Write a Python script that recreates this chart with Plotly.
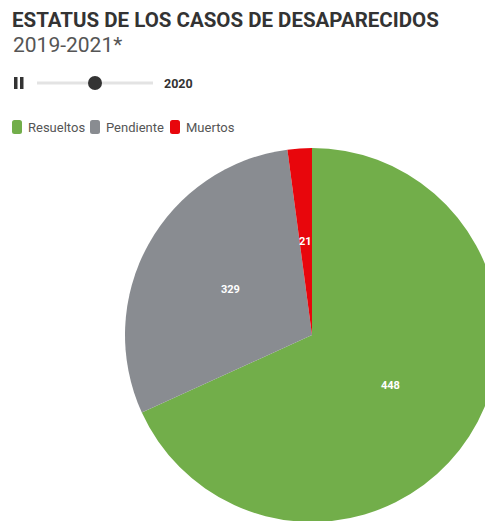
import math
import plotly.graph_objects as go

W, H = 493, 521
OFF = 8  # page body margin

# Data (frame "2020")
categories = ["Resueltos", "Pendiente", "Muertos"]
slice_values = [682, 297, 21]          # slice sizes as drawn (estimated from arc angles)
label_values = ["448", "329", "21"]    # numbers printed on the slices
colors = ["#72AE4A", "#898C91", "#E8060C"]
years = ["2019", "2020", "2021"]
current_year = "2020"


def px(x):
    return (x - OFF) / W


def py(y):
    return 1 - (y - OFF) / H


# pie placement (screen pixels)
PIE_L, PIE_R, PIE_T, PIE_B = 125, 499, 148, 522
cx, cy, rad = (PIE_L + PIE_R) / 2, (PIE_T + PIE_B) / 2, (PIE_B - PIE_T) / 2

fig = go.Figure(
    go.Pie(
        labels=categories,
        values=slice_values,
        text=label_values,
        textinfo="none",
        marker=dict(colors=colors, line=dict(width=0)),
        sort=False,
        direction="clockwise",
        rotation=0,
        domain=dict(x=[px(PIE_L), px(PIE_R)], y=[py(PIE_B), py(PIE_T)]),
        hoverinfo="label+text",
        showlegend=False,
    )
)

shapes = []
# pause icon
for x0 in (14, 20):
    shapes.append(dict(type="rect", xref="paper", yref="paper", x0=px(x0), x1=px(x0 + 3.5),
                       y0=py(89), y1=py(77), fillcolor="#333333", line=dict(width=0)))
# slider track
shapes.append(dict(type="line", xref="paper", yref="paper", x0=px(37), x1=px(153), y0=py(83), y1=py(83),
                   line=dict(color="#E3E3E3", width=3)))
# slider knob at the current year
i = years.index(current_year)
kx = 37 + (153 - 37) * i / (len(years) - 1)
shapes.append(dict(type="circle", xref="paper", yref="paper", x0=px(kx - 7), x1=px(kx + 7),
                   y0=py(90), y1=py(76), fillcolor="#333333", line=dict(width=0)))

annotations = [
    dict(text="2019-2021*", x=px(11), y=py(45), xref="paper", yref="paper", xanchor="left",
         yanchor="middle", showarrow=False, font=dict(family="Roboto", size=21, color="#555555")),
    dict(text="<b>" + current_year + "</b>", x=px(162), y=py(83), xref="paper", yref="paper",
         xanchor="left", yanchor="middle", showarrow=False,
         font=dict(family="Roboto", size=12.5, color="#333333")),
]

# slice labels at half radius along each slice's middle angle (clockwise from top)
total = sum(slice_values)
start = 0.0
for v, t in zip(slice_values, label_values):
    mid = (start + v / 2) / total * 2 * math.pi
    start += v
    lx = cx + 0.5 * rad * math.sin(mid)
    ly = cy - 0.5 * rad * math.cos(mid)
    annotations.append(dict(text="<b>" + t + "</b>", x=px(lx), y=py(ly), xref="paper", yref="paper",
                            xanchor="center", yanchor="middle", showarrow=False,
                            font=dict(family="Roboto", size=11, color="white")))


# legend (drawn compactly, like the original)
def rounded_rect(x0, y0, x1, y1, r):
    X = lambda v: px(v)
    Y = lambda v: py(v)
    return (f"M {X(x0 + r)},{Y(y0)} L {X(x1 - r)},{Y(y0)} Q {X(x1)},{Y(y0)} {X(x1)},{Y(y0 + r)} "
            f"L {X(x1)},{Y(y1 - r)} Q {X(x1)},{Y(y1)} {X(x1 - r)},{Y(y1)} "
            f"L {X(x0 + r)},{Y(y1)} Q {X(x0)},{Y(y1)} {X(x0)},{Y(y1 - r)} "
            f"L {X(x0)},{Y(y0 + r)} Q {X(x0)},{Y(y0)} {X(x0 + r)},{Y(y0)} Z")


legend_x = [12, 90, 170]
for name, col, lx in zip(categories, colors, legend_x):
    shapes.append(dict(type="path", xref="paper", yref="paper", path=rounded_rect(lx, 120, lx + 10, 134, 2.5),
                       fillcolor=col, line=dict(width=0)))
    annotations.append(dict(text=name, x=px(lx + 14), y=py(127), xref="paper", yref="paper",
                            xanchor="left", yanchor="middle", showarrow=False,
                            font=dict(family="Roboto", size=13, color="#555555")))

fig.update_layout(
    width=W,
    height=H,
    autosize=False,
    margin=dict(l=0, r=0, t=0, b=0),
    paper_bgcolor="white",
    plot_bgcolor="white",
    title=dict(text="<b>ESTATUS DE LOS CASOS DE DESAPARECIDOS</b>", x=px(12), xanchor="left",
               y=py(19.5), yanchor="middle", yref="paper",
               font=dict(family="Roboto", size=20.5, color="#333333")),
    showlegend=False,
    shapes=shapes,
    annotations=annotations,
)

fig.write_html("out.html")
